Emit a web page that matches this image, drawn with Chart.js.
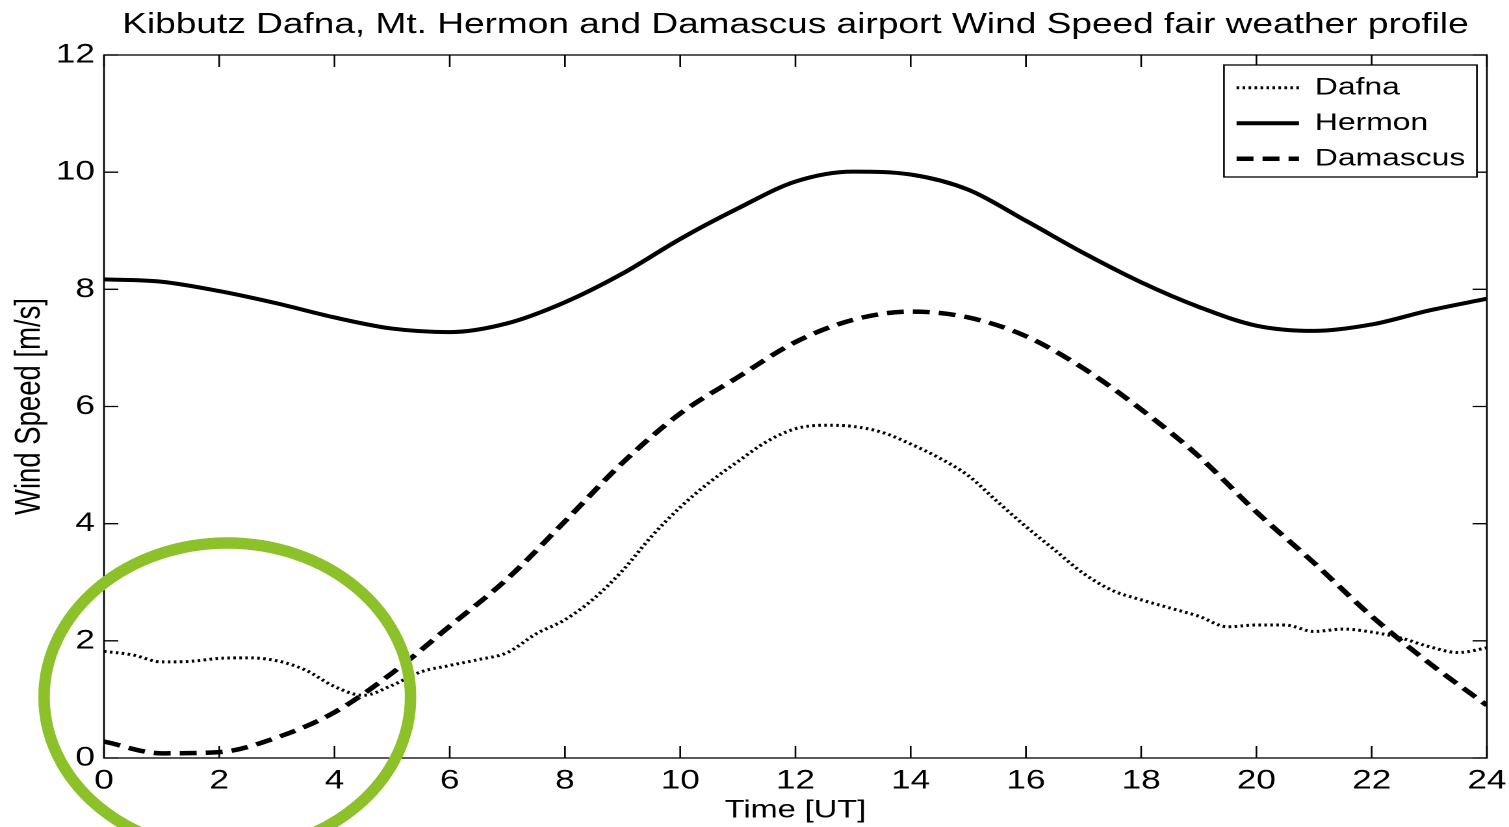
<!DOCTYPE html>
<html><head><meta charset="utf-8">
<script src="https://cdn.jsdelivr.net/npm/chart.js@4.4.1/dist/chart.umd.min.js"></script>
<style>
html,body{margin:0;padding:0;background:#fff;overflow:hidden;}
#wrap{width:1161px;height:827px;transform:scaleX(1.29974);transform-origin:0 0;}
</style></head><body>
<div id="wrap"><canvas id="c"></canvas></div>
<script>
// ---- data ----
const titleText = 'Kibbutz Dafna, Mt. Hermon and Damascus airport Wind Speed fair weather profile';
const xTitle = 'Time [UT]';
const yTitle = 'Wind Speed [m/s]';
const seriesLabels = ['Dafna', 'Hermon', 'Damascus'];

const hours = [0,1,2,3,4,5,6,7,8,9,10,11,12,13,14,15,16,17,18,19,20,21,22,23,24];
const hermonSpeed = [8.17,8.13,7.97,7.76,7.52,7.33,7.27,7.42,7.78,8.27,8.86,9.38,9.84,10.01,9.96,9.70,9.17,8.62,8.12,7.70,7.38,7.29,7.40,7.64,7.84];
const damascusSpeed = [0.28,0.08,0.10,0.35,0.78,1.45,2.25,3.06,4.04,5.04,5.88,6.50,7.10,7.48,7.62,7.52,7.20,6.65,5.95,5.15,4.20,3.33,2.42,1.62,0.90];

const dafnaHours = [0,0.5,1,1.5,2,2.5,3,3.5,4,4.5,5,5.5,6,6.5,7,7.5,8,8.5,9,9.5,10,10.5,11,11.5,12,12.5,13,13.5,14,14.5,15,15.5,16,16.5,17,17.5,18,18.5,19,19.5,20,20.5,21,21.5,22,22.5,23,23.5,24];
const dafnaSpeed = [1.82,1.76,1.64,1.65,1.70,1.71,1.66,1.50,1.22,1.07,1.24,1.47,1.58,1.68,1.80,2.12,2.36,2.72,3.20,3.78,4.28,4.70,5.06,5.40,5.62,5.68,5.66,5.56,5.36,5.12,4.82,4.38,3.95,3.55,3.15,2.86,2.70,2.56,2.42,2.24,2.27,2.27,2.16,2.20,2.15,2.05,1.90,1.80,1.88];

// highlight ellipse annotation (data units)
const highlightCenter = {x: 2.14, y: 1.04};
const highlightRadius = {x: 3.18, y: 2.63};

// ---- rendering ----
const STRETCH = 1509 / 1161;
const FONT = "'Liberation Sans', Arial, Helvetica, sans-serif";
Chart.defaults.font.family = FONT;
Chart.defaults.color = '#000';

const toPoints = (xs, ys) => xs.map((x, i) => ({x: x, y: ys[i]}));

const framePlugin = {
  id: 'frame',
  afterLayout(chart) {
    const lg = chart.legend, ca = chart.chartArea;
    if (!lg) return;
    const w = lg.width, h = lg.height;
    lg.left = ca.right - 203.6;
    lg.top = ca.top + 9.5;
    lg.right = lg.left + w;
    lg.bottom = lg.top + h;
  },
  beforeDraw(chart) {
    const {ctx, chartArea: ca, scales: {x, y}} = chart;
    ctx.save();
    ctx.strokeStyle = '#000';
    ctx.lineWidth = 1.3;
    ctx.strokeRect(ca.left, ca.top, ca.right - ca.left, ca.bottom - ca.top);
    ctx.beginPath();
    x.ticks.forEach(t => {
      const px = x.getPixelForValue(t.value);
      ctx.moveTo(px, ca.bottom); ctx.lineTo(px, ca.bottom - 12);
      ctx.moveTo(px, ca.top); ctx.lineTo(px, ca.top + 12);
    });
    y.ticks.forEach(t => {
      const py = y.getPixelForValue(t.value);
      ctx.moveTo(ca.left, py); ctx.lineTo(ca.left + 11, py);
      ctx.moveTo(ca.right, py); ctx.lineTo(ca.right - 11, py);
    });
    ctx.stroke();
    // legend frame
    const lg = chart.legend;
    const bx = lg.left + 1.3, by = ca.top + 10, bw = (ca.right - 7.7) - bx, bh = 112;
    ctx.fillStyle = '#fff';
    ctx.fillRect(bx, by, bw, bh);
    ctx.strokeRect(bx, by, bw, bh);
    ctx.restore();
  },
  afterDraw(chart) {
    const {ctx, scales: {x, y}} = chart;
    const cx = x.getPixelForValue(highlightCenter.x);
    const cy = y.getPixelForValue(highlightCenter.y);
    const rx = x.getPixelForValue(highlightCenter.x + highlightRadius.x) - cx;
    const ry = cy - y.getPixelForValue(highlightCenter.y + highlightRadius.y);
    ctx.save();
    ctx.translate(cx, cy);
    ctx.scale(1 / STRETCH, 1);
    ctx.beginPath();
    ctx.ellipse(0, 0, rx * STRETCH, ry, 0, 0, Math.PI * 2);
    ctx.strokeStyle = '#8dc12a';
    ctx.lineWidth = 11.5;
    ctx.stroke();
    ctx.restore();
  }
};

new Chart(document.getElementById('c'), {
  type: 'line',
  data: {
    datasets: [
      {label: seriesLabels[0], data: toPoints(dafnaHours, dafnaSpeed), borderColor: '#000', borderWidth: 3, borderDash: [2, 2.6], pointRadius: 0, cubicInterpolationMode: 'monotone', fill: false},
      {label: seriesLabels[1], data: toPoints(hours, hermonSpeed), borderColor: '#000', borderWidth: 4, pointRadius: 0, cubicInterpolationMode: 'monotone', fill: false},
      {label: seriesLabels[2], data: toPoints(hours, damascusSpeed), borderColor: '#000', borderWidth: 4.5, borderDash: [13, 7], pointRadius: 0, cubicInterpolationMode: 'monotone', fill: false}
    ]
  },
  options: {
    responsive: true,
    maintainAspectRatio: false,
    animation: false,
    devicePixelRatio: 2,
    events: [],
    layout: {padding: {left: 0, right: 17, top: 0, bottom: 0}},
    plugins: {
      title: {display: true, text: titleText, color: '#000', font: {size: 28.5, weight: 'normal'}, padding: {top: 7.9, bottom: 12.9}, fullSize: false},
      legend: {
        display: true, position: 'chartArea', align: 'start',
        labels: {
          color: '#000', font: {size: 24.5}, usePointStyle: true, pointStyle: 'line', pointStyleWidth: 48, padding: 11,
          generateLabels(chart) {
            const items = Chart.defaults.plugins.legend.labels.generateLabels(chart);
            items.forEach(it => {
              const ds = chart.data.datasets[it.datasetIndex];
              it.lineWidth = ds.borderWidth;
              it.lineDash = ds.borderDash || [];
              it.strokeStyle = ds.borderColor;
              it.lineCap = 'butt';
            });
            return items;
          }
        }
      },
      tooltip: {enabled: false}
    },
    scales: {
      x: {
        type: 'linear', min: 0, max: 24,
        ticks: {stepSize: 2, color: '#000', font: {size: 27}, padding: 6.8, maxRotation: 0, autoSkip: false},
        grid: {display: false, drawTicks: false},
        border: {display: false},
        title: {display: true, text: xTitle, color: '#000', font: {size: 25}, padding: {top: 0, bottom: 1.5}},
        afterFit(s) { s.height = 69; s.paddingLeft = 0; s.paddingRight = 0; }
      },
      y: {
        min: 0, max: 12,
        ticks: {stepSize: 2, color: '#000', font: {size: 27}, padding: 7},
        grid: {display: false, drawTicks: false},
        border: {display: false},
        title: {display: true, text: yTitle, color: '#000', font: {size: 27.5}, padding: {top: 6.3, bottom: 0}},
        afterFit(s) { s.width = 80; s.paddingTop = 0; s.paddingBottom = 0; }
      }
    }
  },
  plugins: [framePlugin]
});
</script>
</body></html>
